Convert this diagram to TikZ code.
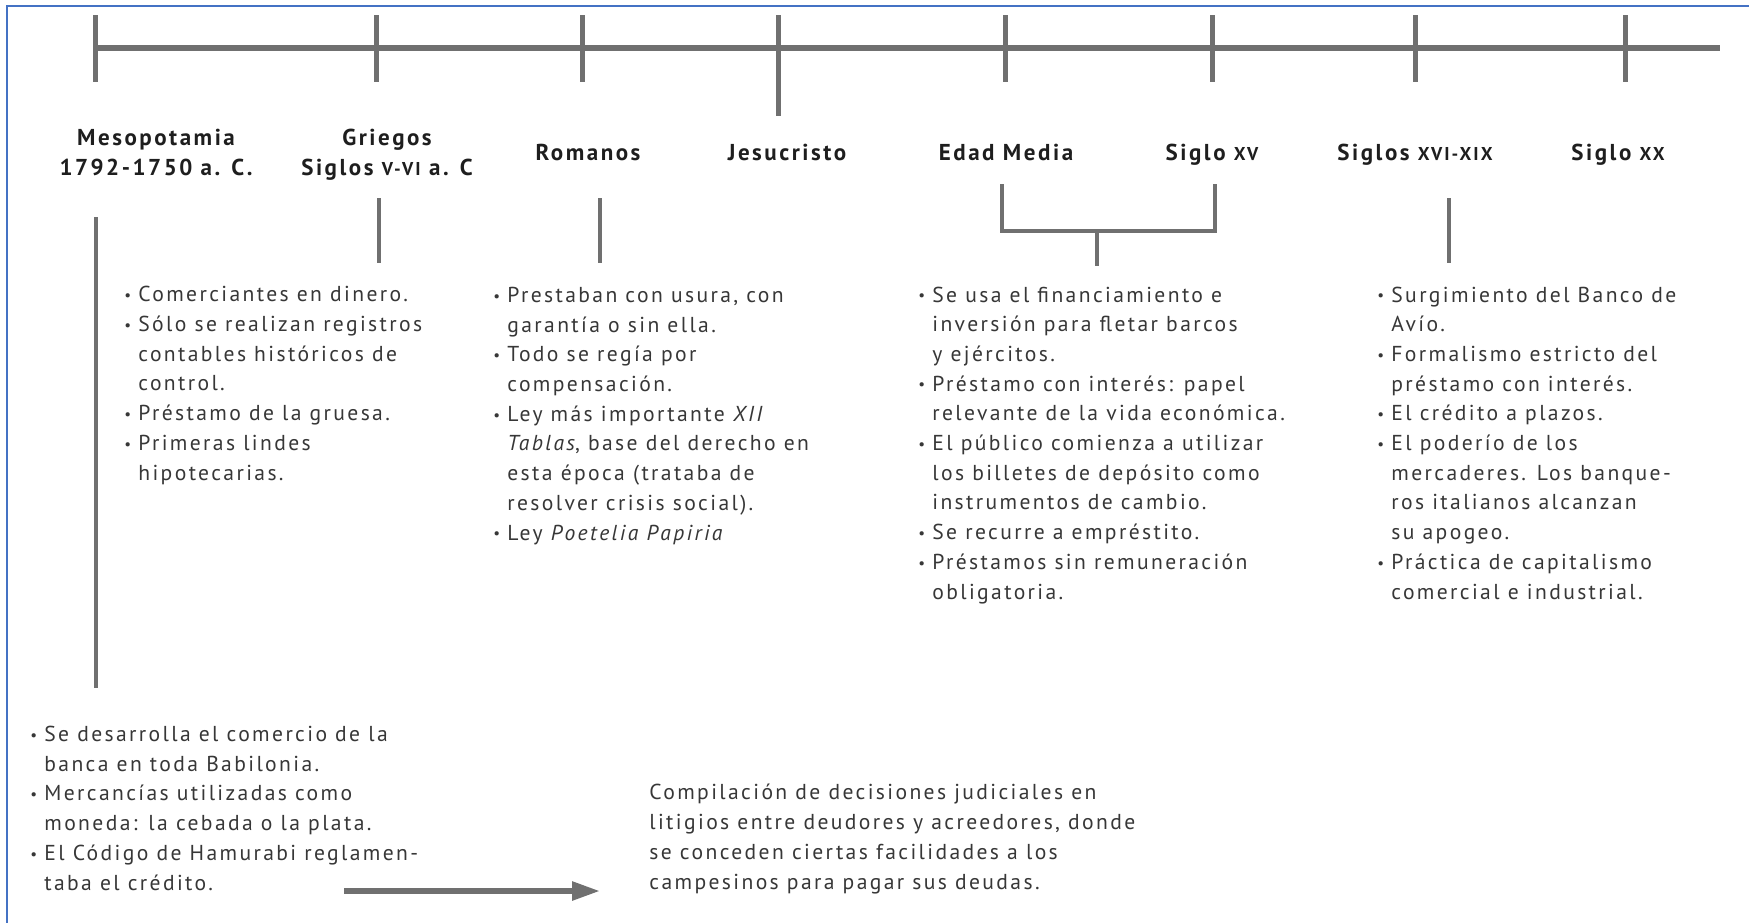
\documentclass[tikz,border=0pt]{standalone}
\usepackage{fontspec}
\setmainfont{PT Sans}[LetterSpace=11]
\usepackage{tikz}
\usetikzlibrary{arrows.meta}
\definecolor{framblue}{RGB}{68, 114, 196}
\definecolor{timegray}{RGB}{112, 112, 112}
\definecolor{headdark}{RGB}{30, 30, 30}
\definecolor{textdark}{RGB}{55, 55, 55}
\newcommand{\bul}{\makebox[7pt][l]{\raisebox{0.6pt}{\scalebox{0.7}{\textbullet}}}}
\newcommand{\ind}{\hspace*{7pt}}
\newcommand{\romsc}[1]{{\fontsize{9.3}{10}\selectfont #1}}
\tikzset{
  frameline/.style={draw=framblue, line width=1pt},
  axisline/.style={draw=timegray, line width=2.6pt},
  tickline/.style={draw=timegray, line width=2.5pt},
  linkline/.style={draw=timegray, line width=2.3pt},
  period/.style={font=\bfseries\fontsize{11.5}{15}\selectfont, text=headdark, inner sep=0pt, align=center, anchor=base},
  facts/.style={font=\fontsize{10.8}{14.85}\selectfont, text=textdark, inner sep=0pt, align=left, anchor=base west}
}

\begin{document}
\begin{tikzpicture}[x=0.5pt, y=-0.5pt]
    \useasboundingbox[fill=white] (0,0) rectangle (1749,923);
    \draw[frameline] (1749,6) -- (7,6) -- (7,923);

    % timeline and ticks
    \draw[axisline] (95,48) -- (1720,48);
    \foreach \x in {95,376,582,1005,1212,1415,1625}
        \draw[tickline] (\x,15) -- (\x,82);
    \draw[tickline] (778,15) -- (778,116);

    % periods (base = last line)
    \node[period] (hmeso) at (156,175) {Mesopotamia\\1792-1750 a. C.};
    \node[period] (hgrie) at (387,175) {Griegos\\Siglos \romsc{V-VI} a. C};
    \node[period] (hroma) at (588,160) {Romanos};
    \node[period] (hjesu) at (787,160) {Jesucristo};
    \node[period] (hedad) at (1006,160) {Edad Media};
    \node[period] (hxv) at (1212,160) {Siglo \romsc{XV}};
    \node[period] (hxvi) at (1415,160) {Siglos \romsc{XVI-XIX}};
    \node[period] (hxx) at (1618,160) {Siglo \romsc{XX}};

    % facts (base = last line)
    \node[facts] (lgrie) at (124,480) {\bul Comerciantes en dinero.\\
        \bul Sólo se realizan registros\\ \ind contables históricos de\\ \ind control.\\
        \bul Préstamo de la gruesa.\\
        \bul Primeras lindes\\ \ind hipotecarias.};
    \node[facts] (lroma) at (493,540) {\bul Prestaban con usura, con\\ \ind garantía o sin ella.\\
        \bul Todo se regía por\\ \ind compensación.\\
        \bul Ley más importante \textit{XII}\\ \ind \textit{Tablas}, base del derecho en\\ \ind esta época (trataba de\\ \ind resolver crisis social).\\
        \bul Ley \textit{Poetelia Papiria}};
    \node[facts] (ledad) at (918,599) {\bul Se usa el financiamiento e\\ \ind inversión para fletar barcos\\ \ind y ejércitos.\\
        \bul Préstamo con interés: papel\\ \ind relevante de la vida económica.\\
        \bul El público comienza a utilizar\\ \ind los billetes de depósito como\\ \ind instrumentos de cambio.\\
        \bul Se recurre a empréstito.\\
        \bul Préstamos sin remuneración\\ \ind obligatoria.};
    \node[facts] (lxvi) at (1377,599) {\bul Surgimiento del Banco de\\ \ind Avío.\\
        \bul Formalismo estricto del\\ \ind préstamo con interés.\\
        \bul El crédito a plazos.\\
        \bul El poderío de los\\ \ind mercaderes. Los banque-\\ \ind ros italianos alcanzan\\ \ind su apogeo.\\
        \bul Práctica de capitalismo\\ \ind comercial e industrial.};
    \node[facts] (lmeso) at (30,890) {\bul Se desarrolla el comercio de la\\ \ind banca en toda Babilonia.\\
        \bul Mercancías utilizadas como\\ \ind moneda: la cebada o la plata.\\
        \bul El Código de Hamurabi reglamen-\\ \ind taba el crédito.};
    \node[facts] (compil) at (649,889) {Compilación de decisiones judiciales en\\
        litigios entre deudores y acreedores, donde\\
        se conceden ciertas facilidades a los\\
        campesinos para pagar sus deudas.};

    % links from periods to facts
    \coordinate (m1) at (96,217);   \coordinate (m2) at (96,688);
    \coordinate (g1) at (379,198);  \coordinate (g2) at (379,263);
    \coordinate (r1) at (600,198);  \coordinate (r2) at (600,263);
    \coordinate (e1) at (1002,184); \coordinate (e2) at (1215,184);
    \coordinate (e3) at (1097,231); \coordinate (e4) at (1097,266);
    \coordinate (s1) at (1449,198); \coordinate (s2) at (1449,263);
    \draw[linkline] (m1) -- (m2);
    \draw[linkline] (g1) -- (g2);
    \draw[linkline] (r1) -- (r2);
    \draw[linkline] (e1) |- (e3) -| (e2);
    \draw[linkline] (e3) -- (e4);
    \draw[linkline] (s1) -- (s2);

    \coordinate (arrtail) at (344,891);
    \draw[linkline, line width=2.8pt, -{Triangle[length=14pt, width=9pt]}, shorten >=24.5pt]
        (arrtail) -- (arrtail -| compil.west);
\end{tikzpicture}
\end{document}
